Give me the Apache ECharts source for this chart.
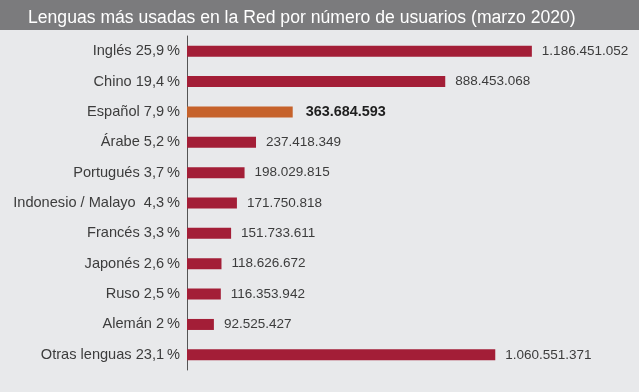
<!DOCTYPE html>
<html>
<head>
<meta charset="utf-8">
<script src="https://cdn.jsdelivr.net/npm/echarts@6/dist/echarts.min.js"></script>
<style>
html,body{margin:0;padding:0;background:#e8e9eb;}
#c{width:639px;height:392px;}
</style>
</head>
<body>
<div id="c"></div>
<script>
const categories = ["Inglés 25,9\u2009%", "Chino 19,4\u2009%", "Español 7,9\u2009%", "Árabe 5,2\u2009%", "Portugués 3,7\u2009%", "Indonesio / Malayo  4,3\u2009%", "Francés 3,3\u2009%", "Japonés 2,6\u2009%", "Ruso 2,5\u2009%", "Alemán 2\u2009%", "Otras lenguas 23,1\u2009%"];
const users = [1186451052, 888453068, 363684593, 237418349, 198029815, 171750818, 151733611, 118626672, 116353942, 92525427, 1060551371];
const highlightIndex = 2;

function fmt(v){ return String(v).replace(/\B(?=(\d{3})+(?!\d))/g, '.'); }

const chart = echarts.init(document.getElementById('c'), null, {renderer:'canvas'});
chart.setOption({
  backgroundColor: '#e8e9eb',
  animation: false,
  graphic: [{
    type: 'rect', left: 0, top: 0, shape: {width: 639, height: 30},
    style: {fill: '#7b7b7d'}, z: 0
  }],
  title: {
    text: 'Lenguas más usadas en la Red por número de usuarios (marzo 2020)',
    left: 23, top: 4,
    textStyle: {color: '#ffffff', fontFamily: 'Liberation Sans, Arial, sans-serif', fontSize: 17.6, fontWeight: 'normal'}
  },
  grid: {left: 187, top: 36, width: 436, height: 334, containLabel: false},
  xAxis: {
    type: 'value', min: 0, max: 1500000000, show: false
  },
  yAxis: {
    type: 'category', data: categories, inverse: true,
    axisLine: {show: true, lineStyle: {color: '#555555', width: 1}},
    axisTick: {show: false},
    axisLabel: {color: '#3c3c3c', fontSize: 14.6, margin: 7, fontFamily: 'Liberation Sans, Arial, sans-serif'}
  },
  series: [{
    type: 'bar',
    barWidth: 11,
    data: users.map((v, i) => ({
      value: v,
      itemStyle: {color: i === highlightIndex ? '#c6622b' : '#a31e37'},
      label: i === highlightIndex ? {fontWeight: 'bold', color: '#1e1e1e', fontSize: 14.4, distance: 13} : {}
    })),
    label: {
      show: true, position: 'right', distance: 10,
      formatter: p => fmt(p.value),
      color: '#3c3c3c', fontSize: 13.5, fontFamily: 'Liberation Sans, Arial, sans-serif'
    }
  }]
});
</script>
</body>
</html>
